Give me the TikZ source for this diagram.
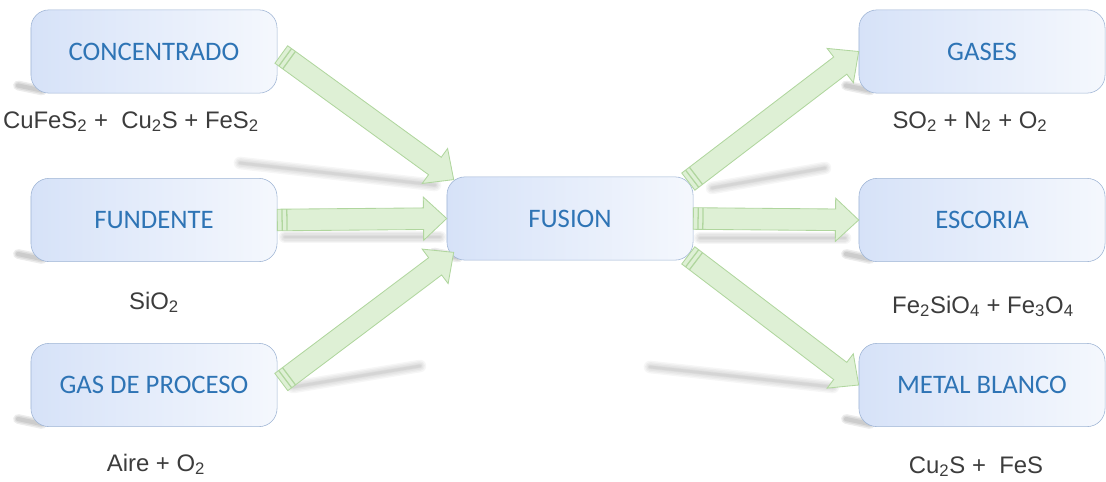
\documentclass[tikz,border=0pt]{standalone}
\usepackage{fontspec}
\setmainfont{Liberation Sans}
\newfontfamily\boxfont{Carlito}
\usetikzlibrary{calc}

\definecolor{boxtext}{RGB}{46,116,181}
\definecolor{boxline}{RGB}{158,180,212}
\definecolor{boxfill}{RGB}{214,226,248}
\definecolor{arrfill}{RGB}{222,240,213}
\definecolor{arrline}{RGB}{176,214,158}
\definecolor{chemtext}{RGB}{60,60,60}

% block arrow from #1 to #2
\newcommand{\fatarrow}[2]{%
  \coordinate (fa-h) at ($(#2)!0.58cm!(#1)$);
  \coordinate (fa-t) at ($(#1)!0.12cm!(#2)$);
  \coordinate (fa-u) at ($(#1)!0.24cm!(#2)$);
  \filldraw[fat] ($(#1)!0.27cm!90:(#2)$) -- ($(fa-h)!0.27cm!-90:(#1)$)
    -- ($(fa-h)!0.54cm!-90:(#1)$) -- (#2) -- ($(fa-h)!0.54cm!90:(#1)$)
    -- ($(fa-h)!0.27cm!90:(#1)$) -- ($(#1)!0.27cm!-90:(#2)$) -- cycle;
  \draw[fattick] ($(fa-t)!0.27cm!90:(#2)$) -- ($(fa-t)!0.27cm!-90:(#2)$)
    ($(fa-u)!0.27cm!90:(#2)$) -- ($(fa-u)!0.27cm!-90:(#2)$);
}

\begin{document}
\begin{tikzpicture}[x=0.025cm, y=-0.025cm,
    proc/.style={draw=boxline, rounded corners=0.45cm, left color=boxfill, right color=boxfill!25,
      minimum width=6.15cm, minimum height=2.08cm, text=boxtext, font=\boxfont\fontsize{19}{22}\selectfont},
    chem/.style={anchor=base, text=chemtext, font=\fontsize{17}{20}\selectfont},
    fat/.style={fill=arrfill, draw=arrline, line width=0.6pt, line join=miter},
    fattick/.style={draw=arrline, line width=0.9pt},
    streak/.style={line cap=round, black, opacity=.035, line width=#1}]
  \useasboundingbox (0,0) rectangle (1106,481);

  % soft shadows
  \foreach \a/\b in {{240,163}/{435,185}, {285,237}/{440,237}, {293,387}/{420,366},
                     {712,188}/{825,168}, {700,238}/{845,238}, {650,367}/{833,387}}
    \foreach \w in {9,7,5,3,2}
      \draw[streak=\w pt] (\a) -- (\b);

  % boxes
  \foreach \n/\x/\y/\t in {conc/154/51.5/CONCENTRADO, fund/154/220/FUNDENTE, gas/154/385/GAS DE PROCESO,
                           fusion/570/218.5/FUSION, gases/982/51.5/GASES, escoria/982/220/ESCORIA,
                           metal/982/385/METAL BLANCO} {
    \foreach \w in {7,5,3}
      \draw[streak=\w pt, opacity=.07] (\x-136,\y+34) -- (\x-112,\y+39);
    \node[proc] (\n) at (\x,\y) {\t};
  }

  % chemistry
  \node[chem] (cconc) at (131,128) {CuFeS\textsubscript{2} +\ \ Cu\textsubscript{2}S + FeS\textsubscript{2}};
  \node[chem] (cfund) at (154,309) {SiO\textsubscript{2}};
  \node[chem] (cgas) at (156,471) {Aire + O\textsubscript{2}};
  \node[chem] (cgases) at (970,128) {SO\textsubscript{2} + N\textsubscript{2} + O\textsubscript{2}};
  \node[chem] (cesc) at (983,313) {Fe\textsubscript{2}SiO\textsubscript{4} + Fe\textsubscript{3}O\textsubscript{4}};
  \node[chem] (cmetal) at (976,473) {Cu\textsubscript{2}S +\ \ FeS};

  % arrows
  \coordinate (s1) at ($(conc.east)+(4,3)$);
  \coordinate (in1) at ($(fusion.north west)+(7,3)$);
  \coordinate (in3) at ($(fusion.south west)+(7,-8)$);
  \coordinate (s3) at ($(gas.east)+(4,-3)$);
  \coordinate (out1) at ($(fusion.north east)+(-5,5)$);
  \coordinate (out3) at ($(fusion.south east)+(-5,-5)$);
  \foreach \s/\e in {s1/in1, fund.east/fusion.west, s3/in3,
                     out1/gases.west, fusion.east/escoria.west, out3/metal.west}
    \fatarrow{\s}{\e};
\end{tikzpicture}
\end{document}
